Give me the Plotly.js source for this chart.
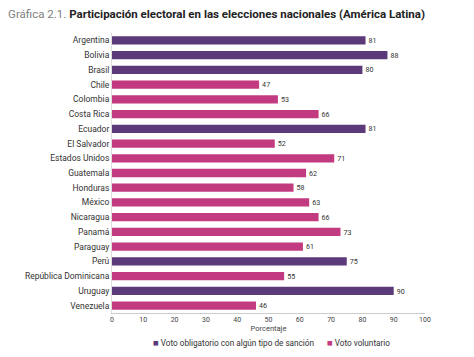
<!DOCTYPE html>
<html><head><meta charset="utf-8">
<script src="https://cdn.plot.ly/plotly-3.0.1.min.js"></script>
<style>body{margin:0;background:#fff}#chart{width:474px;height:357px}</style>
</head><body><div id="chart"></div>
<script>
const countries = ["Argentina","Bolivia","Brasil","Chile","Colombia","Costa Rica","Ecuador","El Salvador","Estados Unidos","Guatemala","Honduras","México","Nicaragua","Panamá","Paraguay","Perú","República Dominicana","Uruguay","Venezuela"];
const values = [81,88,80,47,53,66,81,52,71,62,58,63,66,73,61,75,55,90,46];
const voteType = ["O","O","O","V","V","V","O","V","V","V","V","V","V","V","V","O","V","O","V"];
const seriesKeys = ["O","V"];
const seriesNames = {O:"Voto obligatorio con algún tipo de sanción", V:"Voto voluntario"};
const seriesColors = {O:"#5c3a7a", V:"#c23a80"};
const xTicks = [0,10,20,30,40,50,60,70,80,90,100];
const F = "Roboto, sans-serif";

const traces = seriesKeys.map(k => {
  const ys = [], xs = [];
  countries.forEach((c,i) => { if (voteType[i]===k) { ys.push(c); xs.push(values[i]); } });
  return {
    type:"bar", orientation:"h", y:ys, x:xs, name:seriesNames[k],
    marker:{color:seriesColors[k]}, width:0.56, showlegend:false,
    text:xs.map(String), textposition:"outside", cliponaxis:false,
    textfont:{family:F, size:9.5, color:"#333"}
  };
});

const legendX = {O:0.125, V:0.68};
const annotations = seriesKeys.map(k => ({
  xref:"paper", yref:"paper", x:legendX[k], y:-0.105, xanchor:"left", yanchor:"middle",
  showarrow:false,
  text:'<span style="color:'+seriesColors[k]+';font-size:9.5px">■</span> '+seriesNames[k],
  font:{family:F, size:8.2, color:"#333"}
}));

const layout = {
  width:474, height:357,
  margin:{l:112, r:49, t:33, b:44},
  paper_bgcolor:"#fff", plot_bgcolor:"#fff",
  barmode:"overlay",
  showlegend:false,
  annotations:annotations,
  title:{text:'<span style="color:#808080">Gráfica 2.1.</span> <b>Participación electoral en las elecciones nacionales (América Latina)</b>',
    x:0.017, xanchor:"left", y:0.962, yanchor:"middle",
    font:{family:F, size:11.5, color:"#222"}},
  xaxis:{range:[0,100], tickvals:xTicks, showgrid:false, zeroline:false,
    showline:true, linecolor:"#ccc", linewidth:1, ticks:"",
    tickfont:{family:F, size:7, color:"#444"},
    title:{text:"Porcentaje", font:{family:F, size:7.5, color:"#444"}, standoff:2}},
  yaxis:{type:"category", categoryorder:"array", categoryarray:countries, autorange:"reversed",
    showgrid:false, zeroline:false, showline:true, linecolor:"#ddd", ticks:"", ticklen:0,
    tickfont:{family:F, size:8.5, color:"#333"}}
};
Plotly.newPlot("chart", traces, layout, {displayModeBar:false, staticPlot:true});
</script></body></html>
